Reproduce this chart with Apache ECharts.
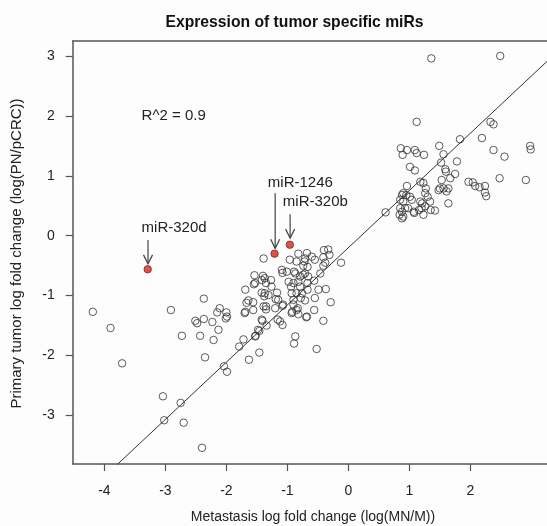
<!DOCTYPE html>
<html><head><meta charset="utf-8">
<script src="https://cdn.jsdelivr.net/npm/echarts@6/dist/echarts.min.js"></script>
<style>html,body{margin:0;padding:0;background:#fdfdfd}#c{width:547px;height:526px}</style>
</head><body><div id="c"></div>
<script>
// ---- data ----
const chartTitle = 'Expression of tumor specific miRs';
const xAxisTitle = 'Metastasis log fold change (log(MN/M))';
const yAxisTitle = 'Primary tumor log fold change (log(PN/pCRC))';
const xTicks = [-4, -3, -2, -1, 0, 1, 2];
const yTicks = [-3, -2, -1, 0, 1, 2, 3];
const xRange = [-4.52, 3.257];
const yRange = [-3.81, 3.25];

const otherMiRs = [
  [-4.19,-1.27],[-3.90,-1.54],[-3.71,-2.13],[-2.91,-1.24],[-2.37,-1.05],[-2.51,-1.42],[-2.48,-1.46],[-2.37,-1.39],
  [-2.23,-1.44],[-2.15,-1.28],[-2.11,-1.21],[-2.73,-1.67],[-2.43,-1.67],[-2.21,-1.74],[-2.13,-1.57],[-2.35,-2.03],
  [-3.04,-2.68],[-2.75,-2.79],[-3.02,-3.08],[-2.70,-3.12],[-2.40,-3.54],
  [-2.00,-1.28],[-1.99,-1.35],[-2.01,-1.38],[-2.04,-2.18],[-1.99,-2.27],[-1.79,-1.85],[-1.72,-1.73],[-1.63,-2.07],
  [-1.52,-1.67],[-1.46,-1.59],[-1.46,-1.95],[-1.34,-1.50],[-1.41,-1.42],[-1.70,-1.29],[-1.67,-1.12],[-1.64,-1.08],
  [-1.56,-1.11],[-1.56,-1.24],[-1.69,-0.90],[-1.54,-0.66],[-1.55,-0.81],[-1.39,-0.38],[-1.40,-0.67],[-1.37,-0.71],
  [-1.35,-0.79],[-1.42,-0.95],[-1.37,-0.96],[-1.38,-1.01],[-1.35,-1.18],[-1.35,-1.23],[-1.27,-0.74],[-1.26,-0.85],
  [-1.19,-1.06],[-1.17,-0.95],[-1.16,-1.40],[-1.12,-1.43],[-1.08,-1.49],[-1.08,-1.17],[-1.08,-0.62],[-1.01,-0.60],
  [-0.98,-0.77],[-0.94,-0.85],[-0.93,-0.96],[-0.90,-1.07],[-0.92,-1.27],[-0.93,-1.29],[-0.83,-1.21],[-0.82,-1.31],
  [-0.87,-1.68],[-0.89,-1.80],[-0.71,-1.08],[-0.68,-1.35],[-0.87,-0.63],[-0.79,-0.68],[-0.82,-0.77],[-0.79,-0.85],
  [-0.85,-0.43],[-0.72,-0.43],[-0.68,-0.29],[-0.67,-0.52],[-0.71,-0.63],[-0.67,-0.79],[-0.67,-0.90],[-0.76,-0.96],
  [-0.78,-1.04],[-0.96,-0.40],[-1.09,-0.57],
  [-0.82,-0.30],[-0.71,-0.38],[-0.60,-0.35],[-0.55,-0.40],[-0.40,-0.24],[-0.33,-0.23],[-0.31,-0.32],[-0.41,-0.36],
  [-0.38,-0.45],[-0.41,-0.50],[-0.12,-0.45],[-0.74,-0.50],[-0.89,-0.60],[-0.74,-0.65],[-0.66,-0.68],[-0.56,-0.75],
  [-0.46,-0.63],[-0.90,-0.79],[-0.49,-0.90],[-0.37,-0.89],[-0.85,-0.96],[-0.55,-1.04],[-0.29,-1.11],[-0.90,-1.15],
  [-0.85,-1.24],[-0.56,-1.24],[-0.69,-1.36],[-0.41,-1.42],[-0.52,-1.89],
  [-1.53,-0.79],[-1.42,-0.74],[-1.31,-0.99],[-1.15,-1.07],[-1.69,-1.27],[-1.39,-1.18],[-1.20,-1.21],[-1.07,-1.15],
  [-1.42,-1.40],[-1.48,-1.57],[-1.53,-1.68],
  [1.36,2.96],[2.49,3.00],[1.12,1.90],[2.33,1.90],[2.38,1.86],[2.19,1.63],[1.83,1.61],[1.49,1.50],[2.38,1.43],
  [2.56,1.32],[2.98,1.50],[2.99,1.44],[2.48,0.96],[2.91,0.93],[1.97,0.90],[2.04,0.89],[2.08,0.83],[2.15,0.81],
  [2.24,0.83],[2.24,0.72],[2.26,0.66],
  [0.86,1.46],[0.96,1.43],[0.89,1.35],[1.09,1.43],[1.12,1.38],[1.24,1.35],[1.56,1.36],[1.01,1.15],[1.09,1.09],
  [1.52,1.22],[1.78,1.24],[1.59,1.11],[1.60,1.07],[1.75,1.03],[1.67,0.96],[1.53,0.93],[1.18,0.90],[1.23,0.88],
  [0.96,0.83],[1.50,0.79],[1.48,0.76],[1.56,0.79],[1.64,0.79],[1.61,0.74],[1.27,0.79],[1.26,0.71],[1.30,0.65],
  [0.90,0.71],[0.88,0.68],[0.95,0.68],[1.01,0.65],[0.85,0.60],[0.90,0.57],[1.04,0.60],[1.18,0.57],[1.21,0.54],
  [1.34,0.57],[0.85,0.46],[0.93,0.46],[0.88,0.40],[0.98,0.46],[1.07,0.40],[1.16,0.43],[1.20,0.46],[1.26,0.49],
  [1.35,0.43],[1.42,0.42],[1.23,0.35],[0.84,0.35],[0.90,0.32],[0.88,0.29],[0.61,0.39],[1.08,0.38],[1.64,0.54]
];

const highlightedMiRs = [[-3.29, -0.56], [-1.21, -0.30], [-0.96, -0.15]];
const highlightNames = ['miR-320d', 'miR-1246', 'miR-320b'];
const highlightLabelPos = [[-3.39, 0.135], [-1.32, 0.89], [-1.075, 0.56]];
const arrowStart = [[-3.285, -0.07], [-1.20, 0.71], [-0.955, 0.36]];
const arrowEnd = [[-3.285, -0.47], [-1.20, -0.21], [-0.955, -0.04]];

const fitSlope = 0.955;
const fitIntercept = -0.2;
const rSquaredText = 'R^2 = 0.9';
const rSquaredPos = [-3.39, 2.0];

// ---- chart ----
const FONT = '"Liberation Sans", Arial, Helvetica, sans-serif';
const chart = echarts.init(document.getElementById('c'));

const textItems = highlightNames.map((n, i) => ({ value: highlightLabelPos[i], name: n }))
  .concat([{ value: rSquaredPos, name: rSquaredText }]);
const arrowItems = arrowStart.map((s, i) => [s[0], s[1], arrowEnd[i][0], arrowEnd[i][1]]);
const fitLine = [[xRange[0], fitIntercept + fitSlope * xRange[0]], [xRange[1], fitIntercept + fitSlope * xRange[1]]];

const frameLine = { show: true, onZero: false, lineStyle: { color: '#555', width: 1.5 } };

chart.setOption({
  animation: false,
  backgroundColor: '#fdfdfd',
  graphic: [
    { type: 'text', x: 294.5, y: 23, style: { text: chartTitle, font: 'bold 15.7px ' + FONT, fill: '#111',
      textAlign: 'center', textVerticalAlign: 'middle', align: 'center', verticalAlign: 'middle' } },
    { type: 'text', x: 313, y: 517, style: { text: xAxisTitle, font: '14px ' + FONT, fill: '#222',
      textAlign: 'center', textVerticalAlign: 'middle', align: 'center', verticalAlign: 'middle' } },
    { type: 'text', x: 17, y: 253.5, rotation: Math.PI / 2, style: { text: yAxisTitle, font: '15px ' + FONT, fill: '#222',
      textAlign: 'center', textVerticalAlign: 'middle', align: 'center', verticalAlign: 'middle' } }
  ],
  grid: { left: 72.7, top: 41, bottom: 62, right: 0, show: false },
  xAxis: [{
    type: 'value', min: xRange[0], max: xRange[1], position: 'bottom',
    axisLine: frameLine,
    splitLine: { show: false },
    axisTick: { show: true, length: 7, lineStyle: { color: '#555', width: 1.2 }, customValues: xTicks },
    axisLabel: { customValues: xTicks, color: '#222', fontSize: 14, fontFamily: FONT, margin: 20 }
  }, {
    type: 'value', min: xRange[0], max: xRange[1], position: 'top',
    axisLine: frameLine,
    splitLine: { show: false }, axisTick: { show: false }, axisLabel: { show: false }
  }],
  yAxis: {
    type: 'value', min: yRange[0], max: yRange[1], position: 'left',
    axisLine: frameLine,
    splitLine: { show: false },
    axisTick: { show: true, length: 7, lineStyle: { color: '#555', width: 1.2 }, customValues: yTicks },
    axisLabel: { customValues: yTicks, color: '#222', fontSize: 14, fontFamily: FONT, margin: 18 }
  },
  series: [
    {
      type: 'line', data: fitLine, showSymbol: false, symbol: 'none', clip: true, silent: true,
      lineStyle: { color: '#333', width: 1 }, z: 1
    },
    {
      type: 'scatter', data: otherMiRs, symbol: 'circle', symbolSize: 7.5, silent: true,
      itemStyle: { color: 'rgba(0,0,0,0)', borderColor: '#333', borderWidth: 1 }, z: 2
    },
    {
      type: 'scatter', data: highlightedMiRs, symbol: 'circle', symbolSize: 7.5, silent: true,
      itemStyle: { color: '#d8261c', borderColor: '#5a1a14', borderWidth: 0.8 }, z: 3
    },
    {
      type: 'custom', data: arrowItems, silent: true, clip: false, z: 4,
      encode: { x: [0, 2], y: [1, 3] },
      renderItem: function (params, api) {
        const a = api.coord([api.value(0), api.value(1)]);
        const b = api.coord([api.value(2), api.value(3)]);
        return { type: 'group', children: [
          { type: 'line', shape: { x1: a[0], y1: a[1], x2: b[0], y2: b[1] }, style: { stroke: '#444', lineWidth: 1.2 } },
          { type: 'polyline', shape: { points: [[b[0] - 4.5, b[1] - 9], [b[0], b[1]], [b[0] + 4.5, b[1] - 9]] },
            style: { stroke: '#444', fill: null, lineWidth: 1.2 } }
        ] };
      }
    },
    {
      type: 'custom', data: textItems, silent: true, clip: false, z: 5,
      encode: { x: 0, y: 1 },
      renderItem: function (params, api) {
        const p = api.coord([api.value(0), api.value(1)]);
        return { type: 'text', x: p[0], y: p[1], style: { text: textItems[params.dataIndex].name, font: '15px ' + FONT,
          fill: '#222', textAlign: 'left', textVerticalAlign: 'middle', align: 'left', verticalAlign: 'middle' } };
      }
    }
  ]
});
</script>
</body></html>
